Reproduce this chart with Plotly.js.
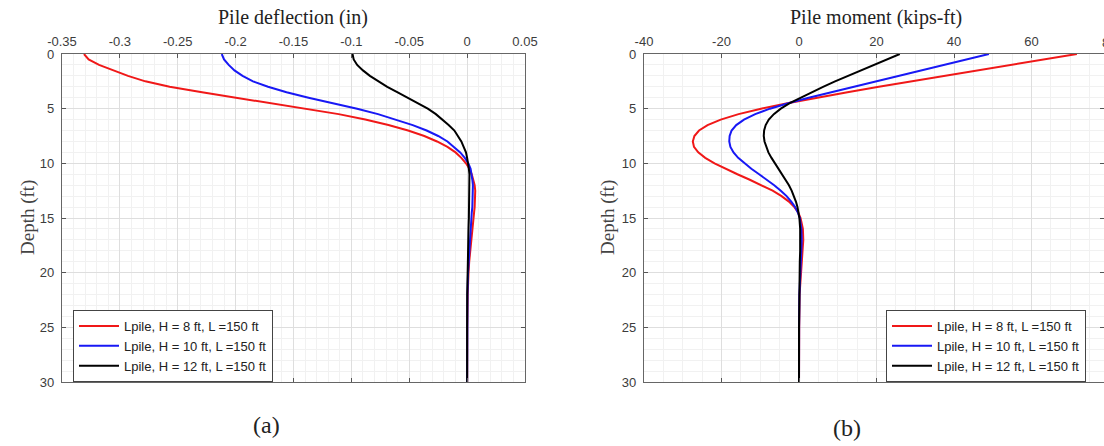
<!DOCTYPE html>
<html>
<head>
<meta charset="utf-8">
<script src="https://cdn.plot.ly/plotly-3.0.1.min.js"></script>
<style>
  html, body { margin: 0; padding: 0; background: #ffffff; }
  #chart { width: 1104px; height: 446px; }
</style>
</head>
<body>
<div id="chart"></div>
<script>
// ---- data ----
const depthFt = [0,0.5,1,1.5,2,2.5,3,3.5,4,4.5,5,5.5,6,6.5,7,7.5,8,8.5,9,9.5,10,10.5,11,11.5,12,12.5,13,13.5,14,14.5,15,16,17,18,19,20,22,25,30];

const seriesNames = ["Lpile, H = 8 ft, L =150 ft", "Lpile, H = 10 ft, L =150 ft", "Lpile, H = 12 ft, L =150 ft"];

const deflH8 = [-0.331,-0.327,-0.318,-0.306,-0.293,-0.278,-0.257,-0.229,-0.199,-0.168,-0.138,-0.111,-0.088,-0.068,-0.051,-0.037,-0.026,-0.017,-0.010,-0.005,-0.001,0.002,0.004,0.0055,0.0065,0.007,0.007,0.0068,0.0065,0.006,0.0055,0.0045,0.0035,0.0025,0.0018,0.0012,0.0005,0.0001,0];
const deflH10 = [-0.212,-0.210,-0.206,-0.201,-0.194,-0.185,-0.172,-0.156,-0.137,-0.116,-0.095,-0.077,-0.061,-0.047,-0.035,-0.025,-0.017,-0.011,-0.006,-0.002,0.001,0.003,0.004,0.0045,0.005,0.005,0.005,0.0048,0.0045,0.004,0.0037,0.003,0.0023,0.0017,0.0012,0.0008,0.0003,0.0001,0];
const deflH12 = [-0.099,-0.098,-0.095,-0.090,-0.084,-0.077,-0.069,-0.060,-0.051,-0.042,-0.034,-0.027,-0.021,-0.016,-0.011,-0.008,-0.005,-0.003,-0.001,0,0.001,0.0015,0.002,0.002,0.002,0.002,0.002,0.0019,0.0018,0.0017,0.0015,0.0012,0.001,0.0007,0.0005,0.0003,0.0001,0,0];

const momH8 = [71.7,63,54.4,45.8,37.3,28.9,20.6,12.5,4.6,-3,-9.8,-15.6,-20.2,-23.6,-25.8,-27,-27.4,-27.1,-26,-24.2,-21.8,-19,-15.9,-12.7,-9.6,-6.8,-4.5,-2.6,-1.2,-0.2,0.4,1.0,1.1,0.9,0.6,0.4,0.15,0.05,0];
const momH10 = [49,43.1,37.2,31.3,25.4,19.6,13.8,8.1,2.5,-2.8,-7.5,-11.3,-14.2,-16.2,-17.4,-17.9,-18,-17.7,-16.9,-15.7,-14.1,-12.3,-10.3,-8.3,-6.4,-4.7,-3.2,-2,-1,-0.3,0.2,0.6,0.7,0.6,0.45,0.3,0.1,0.03,0];
const momH12 = [26,22.6,19.2,15.8,12.5,9.3,6.2,3.2,0.3,-2.4,-4.7,-6.5,-7.8,-8.6,-9,-9.1,-8.9,-8.5,-7.9,-7.1,-6.2,-5.3,-4.3,-3.4,-2.6,-1.9,-1.3,-0.8,-0.4,-0.1,0.1,0.3,0.35,0.3,0.2,0.15,0.05,0,0];

const deflTicks = [-0.35,-0.3,-0.25,-0.2,-0.15,-0.1,-0.05,0,0.05];
const deflTickText = ["-0.35","-0.3","-0.25","-0.2","-0.15","-0.1","-0.05","0","0.05"];
const momTicks = [-40,-20,0,20,40,60,80];
const momTickText = ["-40","-20","0","20","40","60","80"];
const depthTicks = [0,5,10,15,20,25,30];
const depthTickText = ["0","5","10","15","20","25","30"];

const seriesColors = ["#f01818", "#1818f5", "#000000"];

// ---- layout helpers ----
const W = 1104, H = 446;
const px = v => v / W;
const py = v => 1 - v / H;

const tickFont = {family: "Liberation Sans, Arial, sans-serif", size: 13, color: "#3c3c3c"};

function xAxis(range, ticks, text, domain, minorDtick) {
  return {
    domain: domain, range: range, side: "top",
    tickmode: "array", tickvals: ticks, ticktext: text,
    ticks: "inside", ticklen: 4, tickwidth: 1, tickcolor: "#555",
    showline: true, linecolor: "#666", linewidth: 1.2, mirror: "ticks",
    showgrid: true, gridcolor: "#dedede", gridwidth: 1,
    minor: {dtick: minorDtick, showgrid: true, gridcolor: "#f1f1f1", gridwidth: 1},
    zeroline: false, tickfont: tickFont, ticklabelstandoff: 2, fixedrange: true
  };
}
function yAxis(domain) {
  return {
    domain: domain, range: [30, 0],
    tickmode: "array", tickvals: depthTicks, ticktext: depthTickText,
    ticks: "inside", ticklen: 4, tickwidth: 1, tickcolor: "#555",
    showline: true, linecolor: "#666", linewidth: 1.2, mirror: "ticks",
    showgrid: true, gridcolor: "#dedede", gridwidth: 1,
    minor: {dtick: 1, showgrid: true, gridcolor: "#f1f1f1", gridwidth: 1},
    zeroline: false, tickfont: tickFont, ticklabelstandoff: 4, fixedrange: true
  };
}

const yDom = [py(382), py(54)];

const traces = [];
[deflH8, deflH10, deflH12].forEach((s, i) => {
  traces.push({
    x: s, y: depthFt, type: "scatter", mode: "lines", name: seriesNames[i],
    xaxis: "x", yaxis: "y", legend: "legend",
    line: {color: seriesColors[i], width: 2}
  });
});
[momH8, momH10, momH12].forEach((s, i) => {
  traces.push({
    x: s, y: depthFt, type: "scatter", mode: "lines", name: seriesNames[i],
    xaxis: "x2", yaxis: "y2", legend: "legend2",
    line: {color: seriesColors[i], width: 2}
  });
});

const xa1 = xAxis([-0.35, 0.05], deflTicks, deflTickText, [px(62), px(525)], 0.01);
xa1.anchor = "y";
const xa2 = xAxis([-40, 78.7], momTicks, momTickText, [px(644), 1], 5);
xa2.anchor = "y2";
const ya1 = yAxis(yDom); ya1.anchor = "x";
const ya2 = yAxis(yDom); ya2.anchor = "x2";

const serif = "Liberation Serif, Times New Roman, serif";
const legendStyle = (x) => ({
  x: x, y: py(310), xanchor: "left", yanchor: "top",
  bgcolor: "#ffffff", bordercolor: "#444", borderwidth: 1,
  font: {family: "Liberation Sans, Arial, sans-serif", size: 13, color: "#222"},
  tracegroupgap: 0, itemwidth: 40
});

const layout = {
  width: W, height: H,
  margin: {l: 0, r: 0, t: 0, b: 0, pad: 0},
  paper_bgcolor: "#ffffff", plot_bgcolor: "#ffffff",
  showlegend: true,
  xaxis: xa1, yaxis: ya1, xaxis2: xa2, yaxis2: ya2,
  legend: legendStyle(px(73)),
  legend2: legendStyle(px(886)),
  annotations: [
    {text: "Pile deflection (in)", xref: "paper", yref: "paper", x: px(293), y: py(17), xanchor: "center", yanchor: "middle", showarrow: false, font: {family: serif, size: 20, color: "#222"}},
    {text: "Pile moment (kips-ft)", xref: "paper", yref: "paper", x: px(876), y: py(17), xanchor: "center", yanchor: "middle", showarrow: false, font: {family: serif, size: 20, color: "#222"}},
    {text: "Depth (ft)", textangle: -90, xref: "paper", yref: "paper", x: px(28), y: py(218), xanchor: "center", yanchor: "middle", showarrow: false, font: {family: serif, size: 19, color: "#444"}},
    {text: "Depth (ft)", textangle: -90, xref: "paper", yref: "paper", x: px(608), y: py(218), xanchor: "center", yanchor: "middle", showarrow: false, font: {family: serif, size: 19, color: "#444"}},
    {text: "80", xref: "paper", yref: "paper", x: px(1109), y: py(43), xanchor: "center", yanchor: "middle", showarrow: false, font: tickFont},
    {text: "(a)", xref: "paper", yref: "paper", x: px(266), y: py(425), xanchor: "center", yanchor: "middle", showarrow: false, font: {family: serif, size: 24, color: "#222"}},
    {text: "(b)", xref: "paper", yref: "paper", x: px(847), y: py(428), xanchor: "center", yanchor: "middle", showarrow: false, font: {family: serif, size: 24, color: "#222"}}
  ]
};

Plotly.newPlot("chart", traces, layout, {displayModeBar: false, staticPlot: true});
</script>
</body>
</html>
